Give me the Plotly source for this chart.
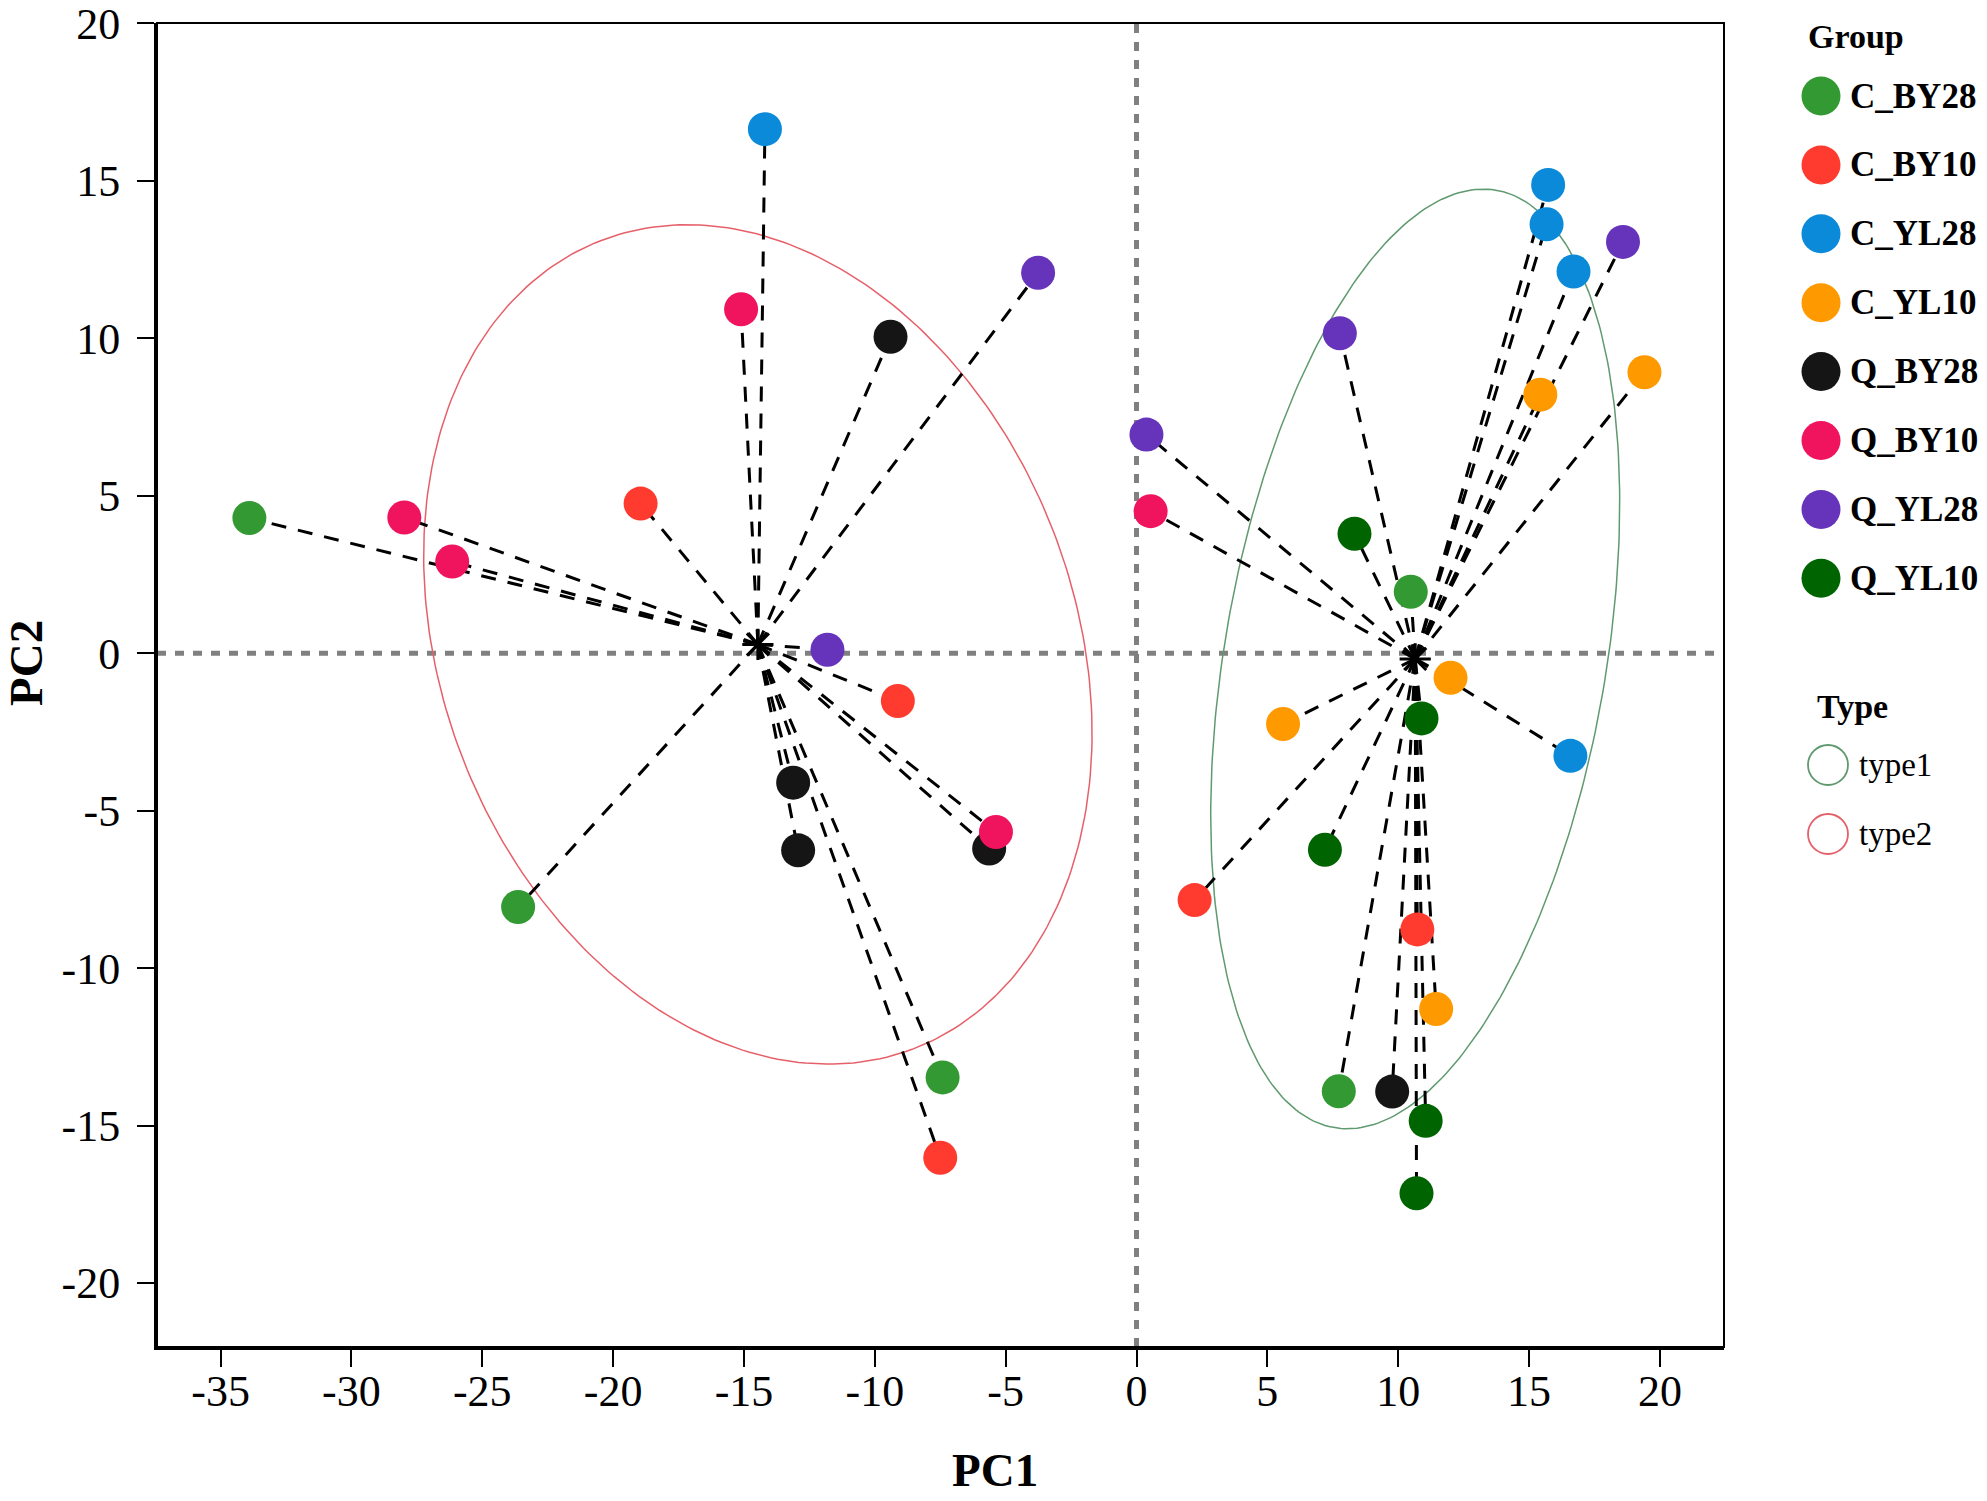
import numpy as np
import plotly.graph_objects as go

# PCA scores
pc1 = [-33.90, -23.63, -7.41, 10.48, 7.73,
       -18.95, -9.12, -7.50, 2.22, 10.73,
       -14.20, 15.73, 15.67, 16.70, 16.58,
       19.41, 15.43, 12.00, 5.60, 11.45,
       -9.40, -13.12, -12.93, -5.63, 9.77,
       -15.11, -27.98, -26.15, -5.37, 0.54,
       -3.76, -11.81, 18.59, 7.77, 0.38,
       8.33, 10.89, 7.20, 11.05, 10.70]
pc2 = [4.29, -8.06, -13.47, 1.95, -13.91,
       4.75, -1.52, -16.02, -7.84, -8.77,
       16.64, 14.87, 13.62, 12.12, -3.26,
       8.92, 8.21, -0.78, -2.25, -11.30,
       10.05, -4.11, -6.26, -6.20, -13.92,
       10.92, 4.31, 2.91, -5.68, 4.51,
       12.08, 0.11, 13.06, 10.16, 6.94,
       3.79, -2.07, -6.24, -14.85, -17.15]
group = (["C_BY28"] * 5 + ["C_BY10"] * 5 + ["C_YL28"] * 5 + ["C_YL10"] * 5 +
         ["Q_BY28"] * 5 + ["Q_BY10"] * 5 + ["Q_YL28"] * 5 + ["Q_YL10"] * 5)
ptype = ["type2", "type2", "type2", "type1", "type1",
         "type2", "type2", "type2", "type1", "type1",
         "type2", "type1", "type1", "type1", "type1",
         "type1", "type1", "type1", "type1", "type1",
         "type2", "type2", "type2", "type2", "type1",
         "type2", "type2", "type2", "type2", "type1",
         "type2", "type2", "type1", "type1", "type1",
         "type1", "type1", "type1", "type1", "type1"]

groups = ["C_BY28", "C_BY10", "C_YL28", "C_YL10", "Q_BY28", "Q_BY10", "Q_YL28", "Q_YL10"]
group_colors = ["#339933", "#ff3b30", "#0a8ad8", "#ff9900", "#151515", "#f0145f", "#6633bb", "#006400"]
types = ["type1", "type2"]
type_colors = ["#5f9a6f", "#e6606a"]
# ellipse semi-axes and rotation (degrees) per type
ell_a = [15.21, 14.39]
ell_b = [7.23, 11.56]
ell_angle = [77.2, -50.7]

x_ticks = [-35, -30, -25, -20, -15, -10, -5, 0, 5, 10, 15, 20]
x_labels = ["-35", "-30", "-25", "-20", "-15", "-10", "-5", "0", "5", "10", "15", "20"]
y_ticks = [20, 15, 10, 5, 0, -5, -10, -15, -20]
y_labels = ["20", "15", "10", "5", "0", "-5", "-10", "-15", "-20"]

W, H = 1987, 1501
FONT = "Liberation Serif"

pc1 = np.array(pc1)
pc2 = np.array(pc2)
group = np.array(group)
ptype = np.array(ptype)

fig = go.Figure()

centers = {}
for t in types:
    m = ptype == t
    centers[t] = (pc1[m].mean(), pc2[m].mean())

# ellipses
th = np.linspace(0, 2 * np.pi, 300)
for i, t in enumerate(types):
    cx, cy = centers[t]
    phi = np.deg2rad(ell_angle[i])
    ex = cx + ell_a[i] * np.cos(th) * np.cos(phi) - ell_b[i] * np.sin(th) * np.sin(phi)
    ey = cy + ell_a[i] * np.cos(th) * np.sin(phi) + ell_b[i] * np.sin(th) * np.cos(phi)
    fig.add_trace(go.Scatter(x=ex, y=ey, mode="lines", line=dict(color=type_colors[i], width=1.5),
                             showlegend=False, hoverinfo="skip"))

# spokes from each sample to its type centroid
for t in types:
    cx, cy = centers[t]
    sx, sy = [], []
    for xv, yv in zip(pc1[ptype == t], pc2[ptype == t]):
        sx += [cx, xv, None]
        sy += [cy, yv, None]
    fig.add_trace(go.Scatter(x=sx, y=sy, mode="lines", line=dict(color="black", width=3, dash="15px,12px"),
                             showlegend=False, hoverinfo="skip"))

# points
for g, c in zip(groups, group_colors):
    m = group == g
    fig.add_trace(go.Scatter(x=pc1[m], y=pc2[m], mode="markers", name=g,
                             marker=dict(size=34, color=c, line=dict(width=0)), showlegend=False))

# centroids
fig.add_trace(go.Scatter(x=[centers[t][0] for t in types], y=[centers[t][1] for t in types],
                         mode="markers", marker=dict(symbol="asterisk-open", size=26, color="black",
                                                     line=dict(color="black", width=3)),
                         showlegend=False, hoverinfo="skip"))

# custom legend on an overlay axis in pixel units
row0, step = 96, 68.9
gy = [row0 + step * i for i in range(len(groups))]
fig.add_trace(go.Scatter(x=[1821] * len(groups), y=gy, mode="markers", xaxis="x2", yaxis="y2",
                         marker=dict(size=39, color=group_colors), showlegend=False, hoverinfo="skip"))
ty = [765, 834]
fig.add_trace(go.Scatter(x=[1828] * 2, y=ty, mode="markers", xaxis="x2", yaxis="y2",
                         marker=dict(size=40, color="rgba(0,0,0,0)", line=dict(color=type_colors, width=1.8)),
                         showlegend=False, hoverinfo="skip"))

ann = []
ann.append(dict(x=1806, y=36, xref="x2", yref="y2", text="<b>Group</b>", showarrow=False,
                xanchor="left", yanchor="middle", font=dict(family=FONT, size=34, color="black")))
for g, yv in zip(groups, gy):
    ann.append(dict(x=1848, y=yv, xref="x2", yref="y2", text="<b>" + g + "</b>", showarrow=False,
                    xanchor="left", yanchor="middle", font=dict(family=FONT, size=35, color="black")))
ann.append(dict(x=1815, y=706, xref="x2", yref="y2", text="<b>Type</b>", showarrow=False,
                xanchor="left", yanchor="middle", font=dict(family=FONT, size=34, color="black")))
for t, yv in zip(types, ty):
    ann.append(dict(x=1857, y=yv, xref="x2", yref="y2", text=t, showarrow=False,
                    xanchor="left", yanchor="middle", font=dict(family=FONT, size=33, color="black")))
# axis titles
ann.append(dict(x=995, y=1470, xref="x2", yref="y2", text="<b>PC1</b>", showarrow=False,
                xanchor="center", yanchor="middle", font=dict(family=FONT, size=47, color="black")))
ann.append(dict(x=26, y=663, xref="x2", yref="y2", text="<b>PC2</b>", showarrow=False, textangle=-90,
                xanchor="center", yanchor="middle", font=dict(family=FONT, size=47, color="black")))

shapes = [
    dict(type="line", xref="x", yref="y domain", x0=0, x1=0, y0=0, y1=1, layer="below",
         line=dict(color="#808080", width=5, dash="9px,9px")),
    dict(type="line", xref="x domain", yref="y", x0=0, x1=1, y0=0, y1=0, layer="below",
         line=dict(color="#808080", width=5, dash="9px,9px")),
    dict(type="rect", xref="x domain", yref="y domain", x0=0, x1=1, y0=0, y1=1,
         line=dict(color="black", width=2)),
]

axis_common = dict(showgrid=False, zeroline=False, showline=True, linecolor="black", linewidth=3,
                   ticks="outside", ticklen=17, tickwidth=2, tickcolor="black", mirror=False,
                   tickfont=dict(family=FONT, size=44, color="black"), automargin=False,
                   ticklabeloverflow="allow")

fig.update_layout(
    width=W, height=H,
    margin=dict(l=0, r=0, t=0, b=0),
    paper_bgcolor="white", plot_bgcolor="rgba(0,0,0,0)",
    showlegend=False,
    xaxis=dict(domain=[157 / W, 1724 / W], range=[-37.43, 22.45], tickmode="array",
               tickvals=x_ticks, ticktext=x_labels, anchor="y", ticklabelstandoff=-14, **axis_common),
    yaxis=dict(domain=[(H - 1347) / H, (H - 23) / H], range=[-22.03, 20.01], tickmode="array",
               tickvals=y_ticks, ticktext=y_labels, anchor="x", ticklabelstandoff=8, **axis_common),
    xaxis2=dict(domain=[0, 1], range=[0, W], visible=False, anchor="y2"),
    yaxis2=dict(domain=[0, 1], range=[H, 0], visible=False, anchor="x2"),
    annotations=ann,
    shapes=shapes,
)

fig.write_html("out.html", config={"displayModeBar": False},
               post_script="document.body.style.margin='0px';")
